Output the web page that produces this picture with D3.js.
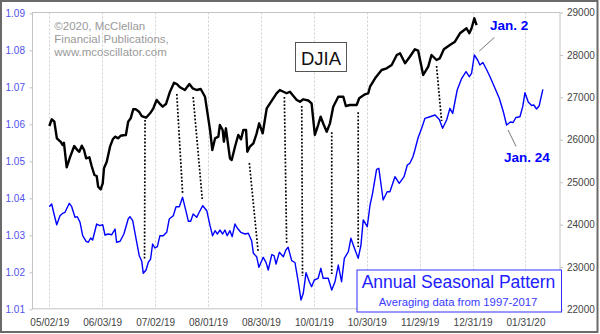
<!DOCTYPE html>
<html><head><meta charset="utf-8">
<script src="https://cdn.jsdelivr.net/npm/d3@7/dist/d3.min.js"></script>
<style>
html,body{margin:0;padding:0;background:#fff;}
svg{display:block;font-family:Arial,"Liberation Sans",sans-serif;}
</style></head>
<body>
<svg id="chart" width="600" height="334"></svg>
<script>
// ---------- DATA ----------
const dateLabels = ["05/02/19","06/03/19","07/02/19","08/01/19","08/30/19","10/01/19","10/30/19","11/29/19","12/31/19","01/31/20"];
const dateTickDays = [0,21,42,63,84,105,126,147,168,189];   // trading-day index of each label
const leftTicks = [1.01,1.02,1.03,1.04,1.05,1.06,1.07,1.08,1.09];
const rightTicks = [22000,23000,24000,25000,26000,27000,28000,29000];

// DJIA (right scale), by trading-day index
const djiaDay = [0,1,2,3,4,4.5,5.3,5.8,6.9,8.2,9.9,11.1,11.9,12.9,13.8,14.6,15.9,16.8,17.9,18.8,19.4,20.4,21.2,21.7,22.8,24.1,25.2,26.1,27.4,28.3,29.4,30.4,31.3,32.3,33.3,34.4,35.6,36.7,38.4,40,41.3,42.6,43.7,45,46.3,47.9,49.5,50.6,51.9,53.8,55.6,56.9,58.5,60.1,61.8,63.1,63.8,64.7,65.8,67.1,67.7,68.8,69.3,70.1,70.8,71.7,72.4,73.7,75,76.1,77,78.1,78.6,79.6,81,82.3,83.3,84.7,86.3,87.6,90.2,91.5,92.7,94.2,95.5,98.2,99.5,100.8,102.8,104.1,105.4,106.7,107.7,108.8,110.1,111.4,112.7,114.7,116.7,117.7,119.3,122,123,125.3,126.6,127.3,129.3,131.9,133.9,135.9,137.9,139.2,141.2,143.1,145.1,146.4,148.4,150.4,151.7,153.7,155,156.6,159,161,163,164.3,165.6,166.7,167.6,168.7,169.6];
const djiaValue = [26325,26483,26426,26035,25978,25955,25877,25931,25351,25587,25853,25759,25719,25860,25759,25564,25587,25382,25170,25146,24894,24833,24974,25328,25483,25837,26011,26073,26035,26096,26106,26113,26426,26506,26718,26718,26662,26560,26520,26624,26742,26938,26860,26780,26843,27133,27345,27315,27237,27173,27315,27213,27173,27197,27015,26506,26231,25759,26035,26073,26348,26231,25955,26270,25955,25563,25523,25837,26113,26011,26231,26231,25719,25837,25917,26153,26388,26153,26742,26860,27096,27173,27138,27096,27133,26938,26898,26954,26926,26860,26113,26348,26544,26372,26190,26388,26780,27015,27015,26796,26820,26820,26978,27072,27096,27251,27449,27645,27685,27763,27998,28038,27803,27958,28133,28100,27527,27723,27998,27880,27920,28133,28234,28312,28510,28571,28628,28510,28628,28863,28705];

// Annual seasonal pattern (left scale), by trading-day index
const seasDay = [0,0.95,1.87,2.94,4.25,5.32,6.23,7.94,8.89,10.2,11.1,12.2,13.25,14.6,15.5,16.4,17.2,18.8,20.1,21.2,22.1,23.4,24.8,26.1,26.7,28.1,29.6,31.3,32,33.1,34.7,35.7,36.7,37.3,38.4,39.3,40.2,41,41.9,42.9,43.9,45.2,46.6,47.6,49.2,50.3,51.6,52.9,54.2,55.2,56.1,57.1,58.5,59.5,60.9,62.5,63.8,64.8,65.8,66.7,67.7,68.8,69.7,70.6,71.7,72.6,73.7,74.6,76,77.7,79,80.3,81,82.3,83.2,84.9,86,86.9,88.3,89.2,90,91.3,92.9,93.9,94.8,96.2,97.5,98.8,99.9,100.8,101.9,103.2,104.1,105.2,106.7,107.8,108.7,110.7,112.1,113.4,114.7,116,117.1,118.7,119.7,120.9,122.6,123.7,124.6,126.2,127.3,128.3,129.9,130.8,132.5,134.1,135.2,137.2,138.9,140.8,142.1,143.1,144.3,145.1,146.4,147.8,149.1,151.1,153.1,154.8,156.1,157.7,159,160.1,161.9,163.7,165.4,166.7,167.6,168.7,170,170.9,172.1,173.3,174.6,176.9,178.6,180.2,181.5,183,184.1,185.2,186.8,187.9,188.8,190.1,191.4,192.3,193.4,194.4,195.9];
const seasValue = [1.03773,1.03846,1.03576,1.03286,1.0353,1.03595,1.03622,1.03865,1.03773,1.03486,1.03503,1.03351,1.02989,1.02838,1.02811,1.02927,1.02873,1.03305,1.0326,1.03286,1.03008,1.03035,1.03016,1.0317,1.02811,1.02838,1.03035,1.0344,1.03503,1.03395,1.02811,1.02449,1.02297,1.01973,1.02062,1.0227,1.02359,1.02765,1.02657,1.02692,1.02989,1.02989,1.03081,1.0344,1.0353,1.03773,1.03773,1.04027,1.03665,1.03378,1.03378,1.03576,1.03486,1.03622,1.038,1.03665,1.0326,1.02989,1.03124,1.03035,1.03143,1.03035,1.03143,1.02989,1.03124,1.02962,1.03305,1.03197,1.03081,1.03035,1.03054,1.02854,1.02514,1.02422,1.02135,1.02405,1.0227,1.02062,1.02476,1.02449,1.02224,1.0254,1.02422,1.02603,1.02676,1.02314,1.02265,1.01746,1.01251,1.01432,1.01989,1.01746,1.01611,1.01792,1.01838,1.02108,1.01838,1.01838,1.01522,1.01746,1.02197,1.01746,1.02378,1.02557,1.02919,1.02692,1.02378,1.02738,1.03414,1.03232,1.03819,1.04135,1.04784,1.04811,1.03954,1.04178,1.04178,1.04584,1.04405,1.04584,1.049,1.04946,1.05116,1.05305,1.05643,1.05892,1.06162,1.06205,1.06251,1.0613,1.05892,1.06116,1.06432,1.06292,1.06927,1.07243,1.07422,1.07286,1.07378,1.07873,1.07738,1.07603,1.0767,1.07514,1.07332,1.06973,1.06703,1.06341,1.05981,1.06062,1.06049,1.06184,1.06205,1.06476,1.06854,1.06603,1.06508,1.06522,1.06414,1.06495,1.06946];

// Dotted connectors: DJIA turning point -> seasonal turning point
const linkFromDay  = [38.0,50.6,57.1,79.4,93.3,100.2,112.1,122.6,153.7];
const linkFromDjia = [26466,27079,27008,25453,27008,26796,26179,26650,27739];
const linkToDay    = [37.8,52.9,60.7,82.9,94.2,100.5,112.1,122.6,155.7];
const linkToSeas   = [1.02359,1.04143,1.03981,1.02549,1.02792,1.0190,1.01954,1.02684,1.06089];

const copyrightLines = ["\u00a92020, McClellan","Financial Publications,","www.mcoscillator.com"];

// ---------- LAYOUT ----------
const svg = d3.select("#chart");
const L = 32.5, R = 560, T = 12.5, B = 308.8;
const x = d3.scaleLinear().domain([-6.67, 202.7]).range([L, R]);
const yL = d3.scaleLinear().domain([1.01, 1.09]).range([309.3, 13.3]);
const yR = d3.scaleLinear().domain([22000, 29000]).range([309.5, 12.5]);
const BLUE = "#0000ff";

// outer frame
svg.append("rect").attr("x",1).attr("y",1).attr("width",596.5).attr("height",331)
  .attr("fill","#fff").attr("stroke","#6a6a6a").attr("stroke-width",2);

// vertical grid
svg.append("g").selectAll("line").data(dateTickDays).join("line")
  .attr("x1",d=>Math.round(x(d))+0.5).attr("x2",d=>Math.round(x(d))+0.5)
  .attr("y1",T).attr("y2",B)
  .attr("stroke","#cfcfcf").attr("stroke-width",1).attr("stroke-dasharray","2,2");

// plot border
svg.append("rect").attr("x",L).attr("y",T).attr("width",R-L).attr("height",B-T)
  .attr("fill","none").attr("stroke","#c4c4c4").attr("stroke-width",1);

// axes
const axL = svg.append("g").attr("transform",`translate(${L},0)`)
  .call(d3.axisLeft(yL).tickValues(leftTicks).tickSize(3).tickPadding(4.5).tickFormat(d3.format(".2f")));
axL.select(".domain").remove();
axL.selectAll("line").attr("stroke","#c4c4c4");
axL.selectAll("text").attr("fill","#5050f0").attr("font-size","10px").attr("font-family","Arial, 'Liberation Sans', sans-serif");

const axR = svg.append("g").attr("transform",`translate(${R},0)`)
  .call(d3.axisRight(yR).tickValues(rightTicks).tickSize(3).tickPadding(4).tickFormat(d3.format("d")));
axR.select(".domain").remove();
axR.selectAll("line").attr("stroke","#c4c4c4");
axR.selectAll("text").attr("fill","#444").attr("font-size","10px").attr("font-family","Arial, 'Liberation Sans', sans-serif");

const axB = svg.append("g").attr("transform",`translate(0,${B})`)
  .call(d3.axisBottom(x).tickValues(dateTickDays).tickSize(0).tickPadding(10.2).tickFormat((d,i)=>dateLabels[i]));
axB.select(".domain").remove();
axB.selectAll("line").remove();
axB.selectAll("text").attr("fill","#444").attr("font-size","10px").attr("font-family","Arial, 'Liberation Sans', sans-serif");

// copyright
const cp = svg.append("text").attr("x",54.3).attr("y",29.5).attr("fill","#9a9a9a").attr("font-size","11.5px");
copyrightLines.forEach((t,i)=>cp.append("tspan").attr("x",54.3).attr("y",29.5+13*i).text(t));

// connectors
const links = linkFromDay.map((d,i)=>({x1:d,y1:linkFromDjia[i],x2:linkToDay[i],y2:linkToSeas[i]}));
svg.append("g").selectAll("line").data(links).join("line")
  .attr("x1",d=>x(d.x1)).attr("y1",d=>yR(d.y1)).attr("x2",d=>x(d.x2)).attr("y2",d=>yL(d.y2))
  .attr("stroke","#000").attr("stroke-width",1.7).attr("stroke-dasharray","1.8,1.8");

// seasonal line
const seas = seasDay.map((d,i)=>[d,seasValue[i]]);
svg.append("path").datum(seas)
  .attr("d",d3.line().x(d=>x(d[0])).y(d=>yL(d[1])))
  .attr("fill","none").attr("stroke",BLUE).attr("stroke-width",1.4).attr("stroke-linejoin","round");

// DJIA line
const dj = djiaDay.map((d,i)=>[d,djiaValue[i]]);
svg.append("path").datum(dj)
  .attr("d",d3.line().x(d=>x(d[0])).y(d=>yR(d[1])))
  .attr("fill","none").attr("stroke","#000").attr("stroke-width",2.4).attr("stroke-linejoin","round");

// DJIA label box
svg.append("rect").attr("x",295.5).attr("y",42.5).attr("width",51).attr("height",29)
  .attr("fill","#fff").attr("stroke","#555").attr("stroke-width",1);
svg.append("text").attr("x",321).attr("y",64.5).attr("text-anchor","middle")
  .attr("font-size","18.5px").attr("fill","#111").text("DJIA");

// annotations
const jan2 = seas.find(d=>d[0]===168.7);
svg.append("line").attr("x1",x(jan2[0])+5).attr("y1",yL(jan2[1])-4).attr("x2",x(jan2[0])+20).attr("y2",yL(jan2[1])-17.5)
  .attr("stroke","#777").attr("stroke-width",1);
svg.append("text").attr("x",490).attr("y",30).attr("font-size","13.5px").attr("font-weight","bold")
  .attr("fill",BLUE).text("Jan. 2");
const jan24 = seas.find(d=>d[0]===181.5);
svg.append("line").attr("x1",x(jan24[0])+1.5).attr("y1",yL(jan24[1])+5).attr("x2",x(jan24[0])+9.5).attr("y2",yL(jan24[1])+21.5)
  .attr("stroke","#777").attr("stroke-width",1);
svg.append("text").attr("x",504).attr("y",162).attr("font-size","13.5px").attr("font-weight","bold")
  .attr("fill",BLUE).text("Jan. 24");

// legend box
svg.append("rect").attr("x",357).attr("y",270).attr("width",204.5).attr("height",42)
  .attr("fill","#fff").attr("stroke","#3030ff").attr("stroke-width",1);
svg.append("text").attr("x",458.5).attr("y",288).attr("text-anchor","middle")
  .attr("font-size","17.5px").attr("fill","#2020ff").text("Annual Seasonal Pattern");
svg.append("text").attr("x",458).attr("y",305.5).attr("text-anchor","middle")
  .attr("font-size","11.3px").attr("fill","#3a3aff").text("Averaging data from 1997-2017");
</script>
</body></html>
